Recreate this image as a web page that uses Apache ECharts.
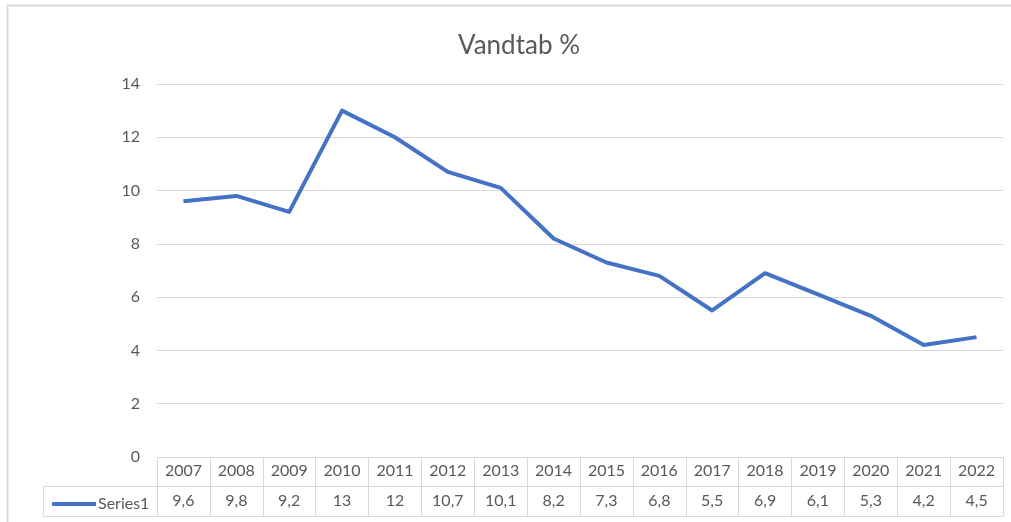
<!DOCTYPE html>
<html>
<head>
<meta charset="utf-8">
<script src="https://cdn.jsdelivr.net/npm/echarts@6/dist/echarts.min.js"></script>
<style>html,body{margin:0;padding:0;background:#fff;}#c{width:1011px;height:522px;}</style>
</head>
<body>
<div id="c"></div>
<script>
const years = ['2007','2008','2009','2010','2011','2012','2013','2014','2015','2016','2017','2018','2019','2020','2021','2022'];
const values = [9.6, 9.8, 9.2, 13, 12, 10.7, 10.1, 8.2, 7.3, 6.8, 5.5, 6.9, 6.1, 5.3, 4.2, 4.5];
const seriesName = 'Series1';
const titleText = 'Vandtab %';

const FONT = 'Lato';
const GRAY = '#595959';
const LINE = '#d9d9d9';
const valueLabels = values.map(v => String(v).replace('.', ','));

const chart = echarts.init(document.getElementById('c'));
chart.setOption({
  animation: false,
  backgroundColor: '#fff',
  textStyle: { fontFamily: FONT },
  title: {
    text: titleText,
    left: 453, top: 28,
    textStyle: { fontFamily: FONT, fontSize: 26, fontWeight: 'normal', color: GRAY }
  },
  legend: {
    data: [{ name: seriesName, icon: 'rect' }],
    left: 47, top: 491,
    itemWidth: 44, itemHeight: 4, itemGap: 4,
    textStyle: { fontFamily: FONT, fontSize: 16, color: GRAY, padding: [0, 0, 0, -3] }
  },
  grid: { left: 157, right: 8, top: 84, bottom: 65, containLabel: false },
  xAxis: [
    {
      type: 'category', data: years, boundaryGap: true, position: 'bottom',
      axisLine: { show: true, lineStyle: { color: LINE, width: 1 } },
      axisTick: { show: true, interval: 0, length: 59, lineStyle: { color: LINE, width: 1 } },
      axisLabel: { interval: 0, margin: 6, fontSize: 16, color: GRAY, fontFamily: FONT }
    },
    {
      type: 'category', data: valueLabels, boundaryGap: true, position: 'bottom', offset: 29,
      axisLine: { show: true, lineStyle: { color: LINE, width: 1 } },
      axisTick: { show: false },
      axisLabel: { interval: 0, margin: 7, fontSize: 16, color: GRAY, fontFamily: FONT }
    },
    {
      type: 'category', data: years, boundaryGap: true, position: 'bottom', offset: 59,
      axisLine: { show: true, lineStyle: { color: LINE, width: 1 } },
      axisTick: { show: false },
      axisLabel: { show: false }
    }
  ],
  yAxis: {
    type: 'value', min: 0, max: 14, interval: 2,
    axisLine: { show: false }, axisTick: { show: false },
    axisLabel: { margin: 17, fontSize: 16, color: GRAY, fontFamily: FONT },
    splitLine: { lineStyle: { color: LINE, width: 1 } }
  },
  graphic: [
    { type: 'rect', shape: { x: 7.5, y: 5.5, width: 1100, height: 600 }, style: { fill: null, stroke: LINE, lineWidth: 2 }, silent: true, z: -1 },
    { type: 'polyline', shape: { points: [[157, 486.5], [43.5, 486.5], [43.5, 516.5], [157, 516.5]] }, style: { fill: null, stroke: LINE, lineWidth: 1 }, silent: true }
  ],
  series: [{
    name: seriesName, type: 'line', data: values, xAxisIndex: 0,
    symbol: 'none', showSymbol: false,
    lineStyle: { color: '#4472C4', width: 4, join: 'round' },
    itemStyle: { color: '#4472C4' }
  }]
});
</script>
</body>
</html>
